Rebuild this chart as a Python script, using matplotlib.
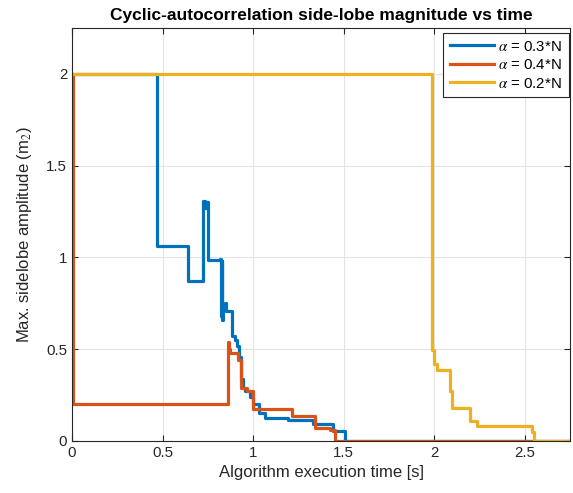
import matplotlib
matplotlib.use("Agg")
import matplotlib.pyplot as plt

plt.rcParams['font.family'] = ['Liberation Sans', 'DejaVu Sans']
plt.rcParams['mathtext.fontset'] = 'stix'

# alpha = 0.3*N
t_blue = [0, 0.468, 0.643, 0.725, 0.732, 0.738, 0.752, 0.818, 0.822, 0.826, 0.830,
          0.836, 0.846, 0.852, 0.884, 0.90, 0.91, 0.922, 0.934, 0.945, 0.955, 0.983,
          1.0, 1.03, 1.066, 1.19, 1.33, 1.44, 1.51, 2.75]
v_blue = [2.0, 1.065, 0.872, 1.31, 1.27, 1.30, 0.985, 0.99, 0.68, 0.98, 0.66,
          0.72, 0.75, 0.71, 0.57, 0.55, 0.52, 0.46, 0.34, 0.29, 0.27, 0.24,
          0.20, 0.155, 0.125, 0.115, 0.09, 0.055, 0.0, 0.0]

# alpha = 0.4*N
t_red = [0, 0.008, 0.864, 0.868, 0.874, 0.917, 0.934, 0.965, 0.998, 1.213, 1.34,
         1.425, 1.453, 2.75]
v_red = [2.0, 0.2, 0.54, 0.50, 0.48, 0.44, 0.29, 0.27, 0.174, 0.135, 0.072,
         0.062, 0.0, 0.0]

# alpha = 0.2*N
t_yel = [0, 1.987, 2.0, 2.015, 2.085, 2.10, 2.2, 2.236, 2.54, 2.553, 2.75]
v_yel = [2.0, 0.496, 0.42, 0.387, 0.27, 0.178, 0.11, 0.082, 0.05, 0.0, 0.0]

labels = [r'$\alpha$ = 0.3*N', r'$\alpha$ = 0.4*N', r'$\alpha$ = 0.2*N']
colors = ['#0072BD', '#D95319', '#EDB120']

fig = plt.figure(figsize=(5.73, 4.93), dpi=100)
ax = fig.add_axes([0.1257, 0.1055, 0.8691, 0.8377])

for t, v, lab, c in zip([t_blue, t_red, t_yel], [v_blue, v_red, v_yel], labels, colors):
    ax.step(t, v, where='post', color=c, lw=2.3, label=lab)

ax.set_xlim(0, 2.75)
ax.set_ylim(0, 2.25)
ax.set_xticks([0, 0.5, 1, 1.5, 2, 2.5])
ax.set_xticklabels(['0', '0.5', '1', '1.5', '2', '2.5'])
ax.set_yticks([0, 0.5, 1, 1.5, 2])
ax.set_yticklabels(['0', '0.5', '1', '1.5', '2'])
ax.grid(True, color='#e3e3e3', lw=0.8)
ax.set_axisbelow(True)
ax.tick_params(direction='in', length=4, width=0.8, labelsize=10.8, colors='#262626',
               top=True, right=True)
for s in ax.spines.values():
    s.set_color('#262626')
    s.set_linewidth(0.8)

ax.set_xlabel('Algorithm execution time [s]', fontsize=12, color='#262626')
ax.set_ylabel('Max. sidelobe amplitude (m$_2$)', fontsize=12, color='#262626', labelpad=9)
ax.set_title('Cyclic-autocorrelation side-lobe magnitude vs time', fontsize=12.5,
             fontweight='bold', color='black', pad=6)

leg = ax.legend(loc='upper right', bbox_to_anchor=(0.997, 0.988), borderaxespad=0,
                fontsize=10.8, fancybox=False, framealpha=1,
                edgecolor='#262626', handlelength=2.9, borderpad=0.45, labelspacing=0.3,
                handletextpad=0.3)
leg.get_frame().set_linewidth(0.8)

fig.savefig('out.png', dpi=100)
